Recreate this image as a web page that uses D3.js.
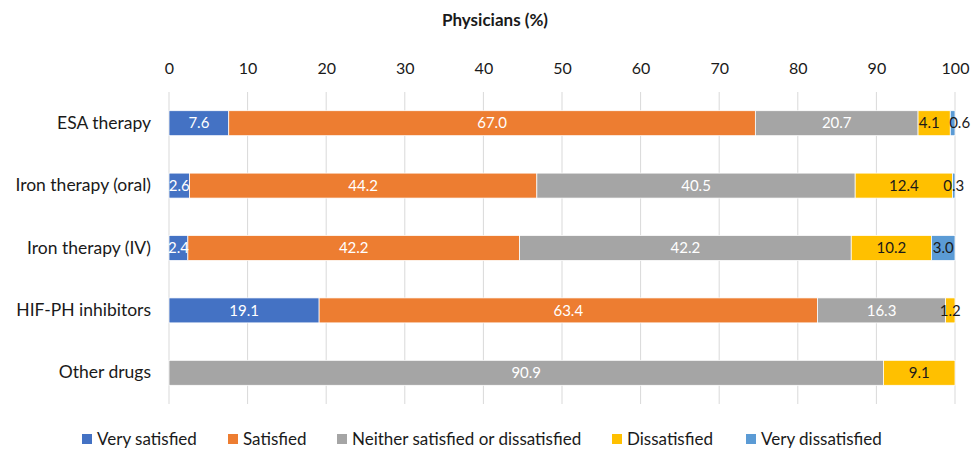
<!DOCTYPE html>
<html lang="en">
<head>
<meta charset="UTF-8">
<title>Physician satisfaction</title>
<script src="https://cdn.jsdelivr.net/npm/d3@7"></script>
<style>
  body { margin: 0; background: #fff; }
  svg text { font-family: Lato, "Open Sans", sans-serif; }
</style>
</head>
<body>
<div id="container"></div>
<script>
  const width = 976;
  const height = 451;
  const margin = { top: 92, left: 169, right: 21, bottom: 47 };

  const categories = ['ESA therapy', 'Iron therapy (oral)', 'Iron therapy (IV)', 'HIF-PH inhibitors', 'Other drugs'];
  const seriesNames = ['Very satisfied', 'Satisfied', 'Neither satisfied or dissatisfied', 'Dissatisfied', 'Very dissatisfied'];
  const colors = ['#4472C4', '#ED7D31', '#A5A5A5', '#FFC000', '#5B9BD5'];
  const labelColors = ['#fff', '#fff', '#fff', '#1a1a1a', '#1a1a1a'];

  const verySatisfied = [7.6, 2.6, 2.4, 19.1, 0];
  const satisfied = [67.0, 44.2, 42.2, 63.4, 0];
  const neither = [20.7, 40.5, 42.2, 16.3, 90.9];
  const dissatisfied = [4.1, 12.4, 10.2, 1.2, 9.1];
  const veryDissatisfied = [0.6, 0.3, 3.0, 0, 0];

  const xTicks = [0, 10, 20, 30, 40, 50, 60, 70, 80, 90, 100];

  const series = [verySatisfied, satisfied, neither, dissatisfied, veryDissatisfied];

  // small label nudges where Excel moved crowded labels
  const labelShift = { 'ESA therapy|4': 7, 'ESA therapy|3': -5 };

  const x = d3.scaleLinear().domain([0, 100]).range([margin.left, width - margin.right]);
  const y = d3.scaleBand().domain(categories).range([margin.top, height - margin.bottom]).paddingInner(0.6).paddingOuter(0.3);

  const svg = d3.select('#container').append('svg')
      .attr('width', width)
      .attr('height', height);

  // title
  svg.append('text')
      .attr('x', 495)
      .attr('y', 20)
      .attr('dy', '0.35em')
      .attr('text-anchor', 'middle')
      .attr('font-size', 17)
      .attr('font-weight', 'bold')
      .attr('fill', '#1a1a1a')
      .text('Physicians (%)');

  // gridlines
  svg.append('g').selectAll('line').data(xTicks).join('line')
      .attr('x1', d => x(d)).attr('x2', d => x(d))
      .attr('y1', margin.top).attr('y2', height - margin.bottom)
      .attr('stroke', '#d9d9d9')
      .attr('stroke-width', 1);

  // top axis
  const gx = svg.append('g')
      .attr('transform', `translate(0, 68)`)
      .call(d3.axisTop(x).tickValues(xTicks).tickSize(0).tickPadding(0));
  gx.select('.domain').remove();
  gx.selectAll('text').attr('font-size', 16).attr('fill', '#1a1a1a').attr('dy', '0.35em')
      .attr('font-family', 'Lato, sans-serif');

  // category axis
  const gy = svg.append('g')
      .attr('transform', `translate(${margin.left - 18}, 0)`)
      .call(d3.axisLeft(y).tickSize(0).tickPadding(0));
  gy.select('.domain').remove();
  gy.selectAll('text').attr('font-size', 17.5).attr('fill', '#1a1a1a').attr('font-family', 'Lato, sans-serif');

  // stacked segments
  const segs = [];
  categories.forEach((c, i) => {
    let acc = 0;
    series.forEach((s, k) => {
      const v = s[i];
      if (v > 0) segs.push({ cat: c, k, x0: acc, x1: acc + v, v });
      acc += v;
    });
  });

  const chart = svg.append('g');
  chart.selectAll('rect').data(segs).join('rect')
      .attr('x', d => x(d.x0))
      .attr('y', d => y(d.cat))
      .attr('width', d => x(d.x1) - x(d.x0))
      .attr('height', y.bandwidth())
      .attr('fill', d => colors[d.k])
      .attr('stroke', '#fff')
      .attr('stroke-width', 0.75);

  chart.selectAll('text.val').data(segs).join('text')
      .attr('class', 'val')
      .attr('x', d => x((d.x0 + d.x1) / 2) + (labelShift[d.cat + '|' + d.k] || 0))
      .attr('y', d => y(d.cat) + y.bandwidth() / 2)
      .attr('dy', '0.35em')
      .attr('text-anchor', 'middle')
      .attr('font-size', 15)
      .attr('fill', d => labelColors[d.k])
      .text(d => d.v.toFixed(1));

  // legend
  const legendX = [82, 228, 337, 612, 746];
  const legend = svg.append('g').selectAll('g').data(seriesNames).join('g')
      .attr('transform', (d, i) => `translate(${legendX[i]}, 439)`);
  legend.append('rect')
      .attr('x', 0).attr('y', -5)
      .attr('width', 10).attr('height', 10)
      .attr('fill', (d, i) => colors[i]);
  legend.append('text')
      .attr('x', 15)
      .attr('dy', '0.35em')
      .attr('font-size', 17)
      .attr('fill', '#1a1a1a')
      .text(d => d);
</script>
</body>
</html>
